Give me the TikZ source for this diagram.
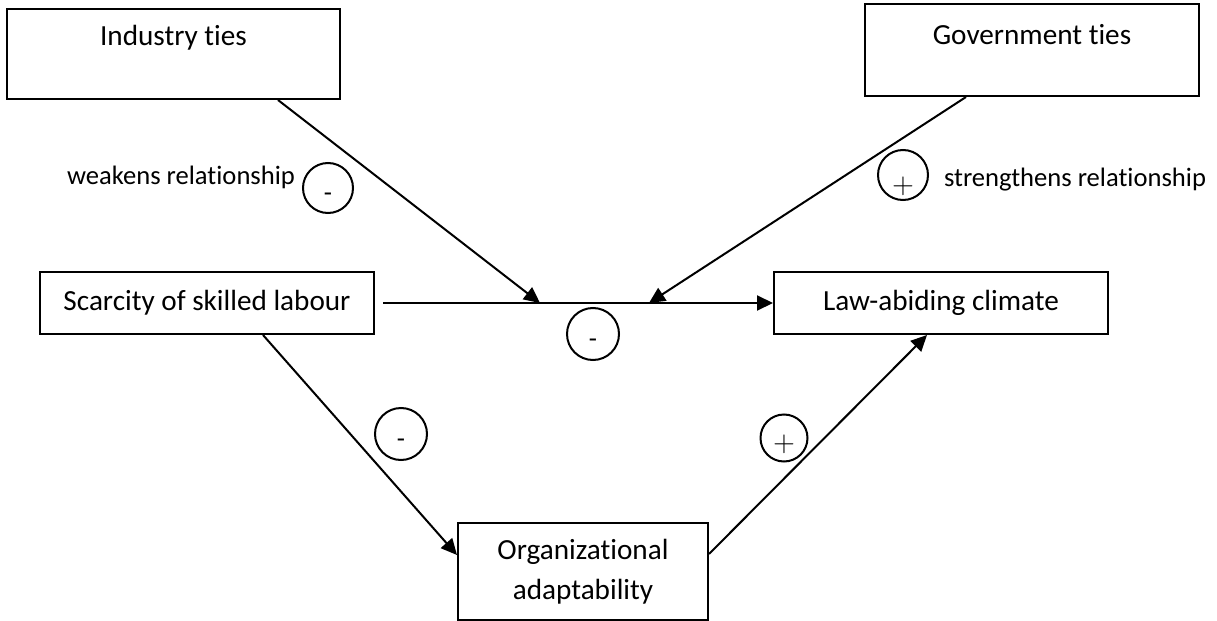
\documentclass[tikz,border=0pt]{standalone}
\usepackage{fontspec}
\setmainfont[Ligatures=NoCommon]{Carlito}
\usetikzlibrary{arrows.meta}
\begin{document}
\begin{tikzpicture}[x=0.5pt,y=-0.5pt,
  box/.style={draw,line width=1pt,inner sep=0pt,minimum height=31pt},
  lbl/.style={font=\fontsize{14.6}{20}\selectfont,inner sep=0pt},
  note/.style={font=\fontsize{13.3}{16}\selectfont,inner sep=0pt},
  sign/.style={draw,circle,line width=1pt,minimum size=25pt,inner sep=0pt},
  link/.style={line width=1pt},
  arr/.style={line width=1pt,-{Triangle[length=8pt,width=7.5pt]}}]
\useasboundingbox (0,0) rectangle (1217,621);
% boxes
\node[box,minimum width=166.5pt,minimum height=45pt] (ind) at (173.5,54) {};
\node[lbl] (indt) at (173.5,38) {Industry ties};
\node[box,minimum width=167pt,minimum height=46pt] (gov) at (1032,50) {};
\node[lbl] (govt) at (1032,35) {Government ties};
\node[box,lbl,minimum width=167pt] (sca) at (207,303) {Scarcity of skilled labour};
\node[box,lbl,minimum width=167pt] (law) at (941,303) {Law-abiding climate};
\node[box,lbl,align=center,minimum width=125pt,minimum height=48.5pt] (org) at (583,571.5) {Organizational\\adaptability};
% junctions on main path
\coordinate (j1) at (540,303);
\coordinate (j2) at (649,303);
% connectors
\draw[arr] ([xshift=4pt]sca.east) -- (law.west);
\draw[arr] ([xshift=52.25pt]ind.south) -- (j1);
\draw[arr] ([xshift=-33pt]gov.south) -- (j2);
\draw[arr] ([xshift=28pt]sca.south) -- ([yshift=8.25pt]org.west);
\draw[arr] ([yshift=8.75pt]org.east) -- ([xshift=-7pt]law.south);
% sign circles
\node[sign] (c1) at (328,188) {};
\node[note] (s1) at (328,197) {-};
\node[sign] (c2) at (903,175) {};
\node[note] (s2) at (903,186) {$+$};
\node[sign,minimum size=26pt] (c3) at (593,334) {};
\node[note] (s3) at (593,343) {-};
\node[sign,minimum size=26pt] (c4) at (401,434) {};
\node[note] (s4) at (401,443) {-};
\node[sign,minimum size=23.5pt] (c5) at (784,438) {};
\node[note] (s5) at (784,444) {$+$};
% notes
\node[note] (wk) at (181,177) {weakens relationship};
\node[note] (st) at (1075,180) {strengthens relationship};
\end{tikzpicture}
\end{document}
